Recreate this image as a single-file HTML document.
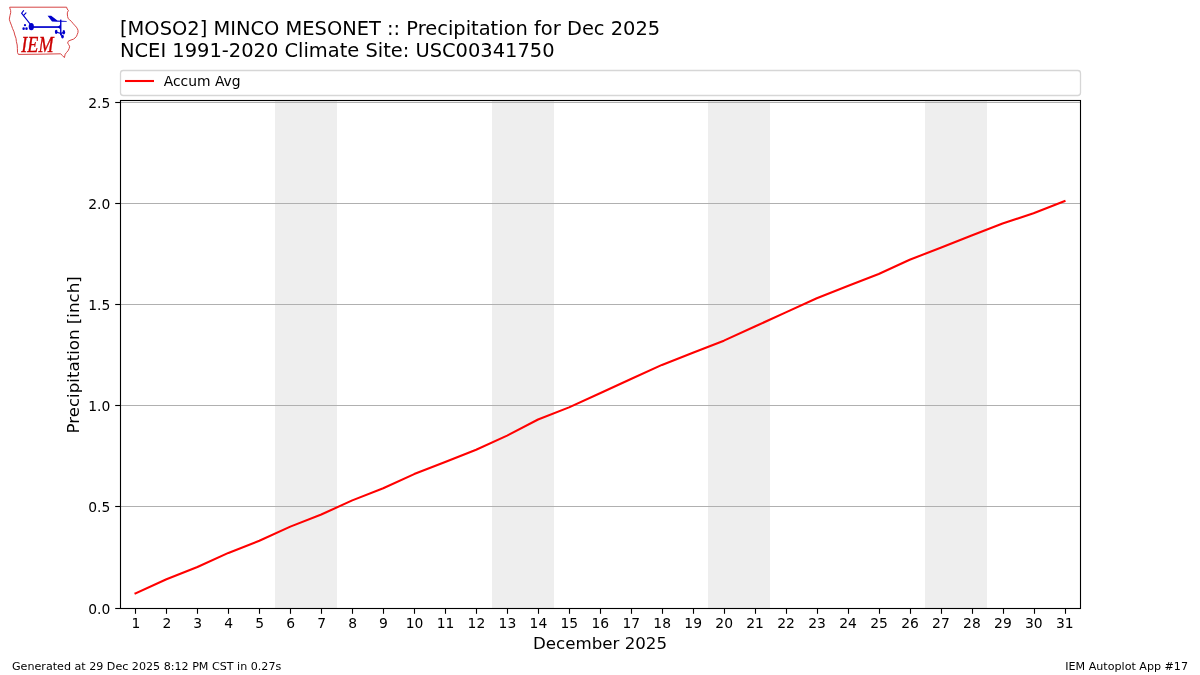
<!DOCTYPE html>
<html lang="en">
<head>
<meta charset="utf-8">
<title>[MOSO2] MINCO MESONET :: Precipitation for Dec 2025</title>
<style>
html,body{margin:0;padding:0;background:#fff;}
body{width:1200px;height:675px;overflow:hidden;}
svg{display:block;}
text{font-family:"DejaVu Sans","Liberation Sans",sans-serif;fill:#000;}
.t14{font-size:19.44px;}
.t12{font-size:16.67px;}
.t10{font-size:13.89px;}
.t8{font-size:11.11px;}
</style>
</head>
<body>
<svg width="1200" height="675" viewBox="0 0 1200 675">
<rect x="0" y="0" width="1200" height="675" fill="#ffffff"/>
<g id="logo">
<path d="M9.7,7.2 L66.6,7.2 L67.2,9 L68.4,10.6 L67.5,12.2 L67.3,14 L67.6,16.5 L68.2,18.6 L69.8,20 L71.4,21.4 L72.8,23.2 L74.6,25.2 L76.4,27.2 L77.4,28.8 L78,30.4 L78,32.4 L77.2,34.6 L76.6,36.2 L75,38 L73.4,39.2 L71,40 L69,40.8 L68,41.6 L67.7,43 L68.6,44.6 L69.6,46.2 L69.2,48.4 L68,50.8 L66.6,52.4 L65.2,54.2 L64.4,57.6 L62.4,55.6 L60.7,53.8 L40,54.2 L18.4,54.4 L17.5,52.6 L17.4,48.6 L17.2,45 L16.4,41.6 L16,38.4 L14.8,35 L14,31.8 L12.6,28.6 L11.4,25.2 L10,21.6 L9.3,19.2 L10,15.4 L10.7,12.6 L10.6,10.4 L10,8.8 Z" fill="none" stroke="#d43a3a" stroke-width="0.95" stroke-linejoin="round"/>
<g fill="#0000cc" stroke="none">
<ellipse cx="31.3" cy="26.7" rx="2.6" ry="3.6"/>
<rect x="31.3" y="26.2" width="29.6" height="1.7"/>
<path d="M57.6,27 L60.7,24.6 L60.7,29.6 Z"/>
<rect x="60.05" y="19.6" width="1.4" height="15.8"/>
<path d="M47.6,15.8 L51.2,15.8 L57.4,20.4 L66.8,20.9 L66.6,21.8 L57,21.7 L52,21.6 Z"/>
<circle cx="25" cy="25.2" r="1.1"/>
<ellipse cx="23.6" cy="28.7" rx="1.25" ry="1.4"/>
<ellipse cx="26.5" cy="28.7" rx="1.25" ry="1.4"/>
<ellipse cx="56.2" cy="31.9" rx="1.35" ry="2.05"/>
<ellipse cx="63.8" cy="32.3" rx="1.3" ry="2.2"/>
<ellipse cx="62.5" cy="36.6" rx="1.35" ry="1.95"/>
</g>
<g fill="none" stroke="#0000cc" stroke-width="1.1" stroke-linecap="round">
<path d="M30.6,24.6 L21.6,13.2 L23.6,10.6"/>
<path d="M23.4,15.6 L26,12.8"/>
<path d="M56.6,32.2 L60.7,33.4 L63.6,32.6"/>
<path d="M60.7,33.4 L62.4,36.4"/>
</g>
<text x="21.3" y="51.6" style="font-family:'Liberation Serif',serif;font-style:italic;font-size:22.4px;fill:#cc0000;stroke:#cc0000;stroke-width:0.35px;" textLength="32.2" lengthAdjust="spacingAndGlyphs">IEM</text>
</g>
<text class="t14" x="120" y="35">[MOSO2] MINCO MESONET :: Precipitation for Dec 2025</text>
<text class="t14" x="120" y="57.3">NCEI 1991-2020 Climate Site: USC00341750</text>
<rect x="275.00" y="100.50" width="62.00" height="508.00" fill="#eeeeee"/>
<rect x="492.00" y="100.50" width="62.00" height="508.00" fill="#eeeeee"/>
<rect x="708.00" y="100.50" width="62.00" height="508.00" fill="#eeeeee"/>
<rect x="925.00" y="100.50" width="62.00" height="508.00" fill="#eeeeee"/>
<line x1="120.5" x2="1080.5" y1="506.5" y2="506.5" stroke="#b0b0b0" stroke-width="1.11"/>
<line x1="120.5" x2="1080.5" y1="405.5" y2="405.5" stroke="#b0b0b0" stroke-width="1.11"/>
<line x1="120.5" x2="1080.5" y1="304.5" y2="304.5" stroke="#b0b0b0" stroke-width="1.11"/>
<line x1="120.5" x2="1080.5" y1="203.5" y2="203.5" stroke="#b0b0b0" stroke-width="1.11"/>
<line x1="120.5" x2="1080.5" y1="102.5" y2="102.5" stroke="#b0b0b0" stroke-width="1.11"/>
<polyline points="135.48,593.35 166.45,579.20 197.42,567.07 228.39,552.92 259.35,540.79 290.32,526.64 321.29,514.51 352.26,500.36 383.23,488.23 414.19,474.08 445.16,461.95 476.13,449.82 507.10,435.67 538.06,419.50 569.03,407.37 600.00,393.22 630.97,379.07 661.94,364.92 692.90,352.79 723.87,340.66 754.84,326.51 785.81,312.36 816.77,298.21 847.74,286.08 878.71,273.95 909.68,259.80 940.65,247.67 971.61,235.54 1002.58,223.42 1033.55,213.31 1064.52,201.18" fill="none" stroke="#ff0000" stroke-width="2.08" stroke-linejoin="round" stroke-linecap="square"/>
<rect x="120.5" y="100.5" width="960" height="508.0" fill="none" stroke="#000" stroke-width="1.11"/>
<line x1="115.2" x2="120.5" y1="608.5" y2="608.5" stroke="#000" stroke-width="1.11"/>
<text class="t10" x="110.3" y="613.6" text-anchor="end">0.0</text>
<line x1="115.2" x2="120.5" y1="506.5" y2="506.5" stroke="#000" stroke-width="1.11"/>
<text class="t10" x="110.3" y="511.6" text-anchor="end">0.5</text>
<line x1="115.2" x2="120.5" y1="405.5" y2="405.5" stroke="#000" stroke-width="1.11"/>
<text class="t10" x="110.3" y="410.6" text-anchor="end">1.0</text>
<line x1="115.2" x2="120.5" y1="304.5" y2="304.5" stroke="#000" stroke-width="1.11"/>
<text class="t10" x="110.3" y="309.6" text-anchor="end">1.5</text>
<line x1="115.2" x2="120.5" y1="203.5" y2="203.5" stroke="#000" stroke-width="1.11"/>
<text class="t10" x="110.3" y="208.6" text-anchor="end">2.0</text>
<line x1="115.2" x2="120.5" y1="102.5" y2="102.5" stroke="#000" stroke-width="1.11"/>
<text class="t10" x="110.3" y="107.6" text-anchor="end">2.5</text>
<line x1="135.5" x2="135.5" y1="608.5" y2="613.8" stroke="#000" stroke-width="1.11"/>
<text class="t10" x="135.8" y="627.9" text-anchor="middle">1</text>
<line x1="166.5" x2="166.5" y1="608.5" y2="613.8" stroke="#000" stroke-width="1.11"/>
<text class="t10" x="166.8" y="627.9" text-anchor="middle">2</text>
<line x1="197.5" x2="197.5" y1="608.5" y2="613.8" stroke="#000" stroke-width="1.11"/>
<text class="t10" x="197.7" y="627.9" text-anchor="middle">3</text>
<line x1="228.5" x2="228.5" y1="608.5" y2="613.8" stroke="#000" stroke-width="1.11"/>
<text class="t10" x="228.7" y="627.9" text-anchor="middle">4</text>
<line x1="259.5" x2="259.5" y1="608.5" y2="613.8" stroke="#000" stroke-width="1.11"/>
<text class="t10" x="259.7" y="627.9" text-anchor="middle">5</text>
<line x1="290.5" x2="290.5" y1="608.5" y2="613.8" stroke="#000" stroke-width="1.11"/>
<text class="t10" x="290.6" y="627.9" text-anchor="middle">6</text>
<line x1="321.5" x2="321.5" y1="608.5" y2="613.8" stroke="#000" stroke-width="1.11"/>
<text class="t10" x="321.6" y="627.9" text-anchor="middle">7</text>
<line x1="352.5" x2="352.5" y1="608.5" y2="613.8" stroke="#000" stroke-width="1.11"/>
<text class="t10" x="352.6" y="627.9" text-anchor="middle">8</text>
<line x1="383.5" x2="383.5" y1="608.5" y2="613.8" stroke="#000" stroke-width="1.11"/>
<text class="t10" x="383.5" y="627.9" text-anchor="middle">9</text>
<line x1="414.5" x2="414.5" y1="608.5" y2="613.8" stroke="#000" stroke-width="1.11"/>
<text class="t10" x="414.5" y="627.9" text-anchor="middle">10</text>
<line x1="445.5" x2="445.5" y1="608.5" y2="613.8" stroke="#000" stroke-width="1.11"/>
<text class="t10" x="445.5" y="627.9" text-anchor="middle">11</text>
<line x1="476.5" x2="476.5" y1="608.5" y2="613.8" stroke="#000" stroke-width="1.11"/>
<text class="t10" x="476.4" y="627.9" text-anchor="middle">12</text>
<line x1="507.5" x2="507.5" y1="608.5" y2="613.8" stroke="#000" stroke-width="1.11"/>
<text class="t10" x="507.4" y="627.9" text-anchor="middle">13</text>
<line x1="538.5" x2="538.5" y1="608.5" y2="613.8" stroke="#000" stroke-width="1.11"/>
<text class="t10" x="538.4" y="627.9" text-anchor="middle">14</text>
<line x1="569.5" x2="569.5" y1="608.5" y2="613.8" stroke="#000" stroke-width="1.11"/>
<text class="t10" x="569.3" y="627.9" text-anchor="middle">15</text>
<line x1="600.5" x2="600.5" y1="608.5" y2="613.8" stroke="#000" stroke-width="1.11"/>
<text class="t10" x="600.3" y="627.9" text-anchor="middle">16</text>
<line x1="631.5" x2="631.5" y1="608.5" y2="613.8" stroke="#000" stroke-width="1.11"/>
<text class="t10" x="631.3" y="627.9" text-anchor="middle">17</text>
<line x1="662.5" x2="662.5" y1="608.5" y2="613.8" stroke="#000" stroke-width="1.11"/>
<text class="t10" x="662.2" y="627.9" text-anchor="middle">18</text>
<line x1="693.5" x2="693.5" y1="608.5" y2="613.8" stroke="#000" stroke-width="1.11"/>
<text class="t10" x="693.2" y="627.9" text-anchor="middle">19</text>
<line x1="724.5" x2="724.5" y1="608.5" y2="613.8" stroke="#000" stroke-width="1.11"/>
<text class="t10" x="724.2" y="627.9" text-anchor="middle">20</text>
<line x1="755.5" x2="755.5" y1="608.5" y2="613.8" stroke="#000" stroke-width="1.11"/>
<text class="t10" x="755.1" y="627.9" text-anchor="middle">21</text>
<line x1="786.5" x2="786.5" y1="608.5" y2="613.8" stroke="#000" stroke-width="1.11"/>
<text class="t10" x="786.1" y="627.9" text-anchor="middle">22</text>
<line x1="817.5" x2="817.5" y1="608.5" y2="613.8" stroke="#000" stroke-width="1.11"/>
<text class="t10" x="817.1" y="627.9" text-anchor="middle">23</text>
<line x1="848.5" x2="848.5" y1="608.5" y2="613.8" stroke="#000" stroke-width="1.11"/>
<text class="t10" x="848.0" y="627.9" text-anchor="middle">24</text>
<line x1="879.5" x2="879.5" y1="608.5" y2="613.8" stroke="#000" stroke-width="1.11"/>
<text class="t10" x="879.0" y="627.9" text-anchor="middle">25</text>
<line x1="910.5" x2="910.5" y1="608.5" y2="613.8" stroke="#000" stroke-width="1.11"/>
<text class="t10" x="910.0" y="627.9" text-anchor="middle">26</text>
<line x1="941.5" x2="941.5" y1="608.5" y2="613.8" stroke="#000" stroke-width="1.11"/>
<text class="t10" x="940.9" y="627.9" text-anchor="middle">27</text>
<line x1="972.5" x2="972.5" y1="608.5" y2="613.8" stroke="#000" stroke-width="1.11"/>
<text class="t10" x="971.9" y="627.9" text-anchor="middle">28</text>
<line x1="1003.5" x2="1003.5" y1="608.5" y2="613.8" stroke="#000" stroke-width="1.11"/>
<text class="t10" x="1002.9" y="627.9" text-anchor="middle">29</text>
<line x1="1034.5" x2="1034.5" y1="608.5" y2="613.8" stroke="#000" stroke-width="1.11"/>
<text class="t10" x="1033.8" y="627.9" text-anchor="middle">30</text>
<line x1="1065.5" x2="1065.5" y1="608.5" y2="613.8" stroke="#000" stroke-width="1.11"/>
<text class="t10" x="1064.8" y="627.9" text-anchor="middle">31</text>
<text class="t12" x="600" y="649" text-anchor="middle">December 2025</text>
<text class="t12" transform="translate(79,354.9) rotate(-90)" text-anchor="middle">Precipitation [inch]</text>
<rect x="120.5" y="70.5" width="960" height="25" rx="2.8" ry="2.8" fill="#ffffff" fill-opacity="0.8" stroke="#d6d6d6" stroke-width="1.3"/>
<line x1="125.0" x2="154.0" y1="81" y2="81" stroke="#ff0000" stroke-width="2.08"/>
<text class="t10" x="163.7" y="85.9">Accum Avg</text>
<text class="t8" x="12" y="669.8">Generated at 29 Dec 2025 8:12 PM CST in 0.27s</text>
<text class="t8" x="1188" y="669.8" text-anchor="end">IEM Autoplot App #17</text>
</svg>
</body>
</html>
